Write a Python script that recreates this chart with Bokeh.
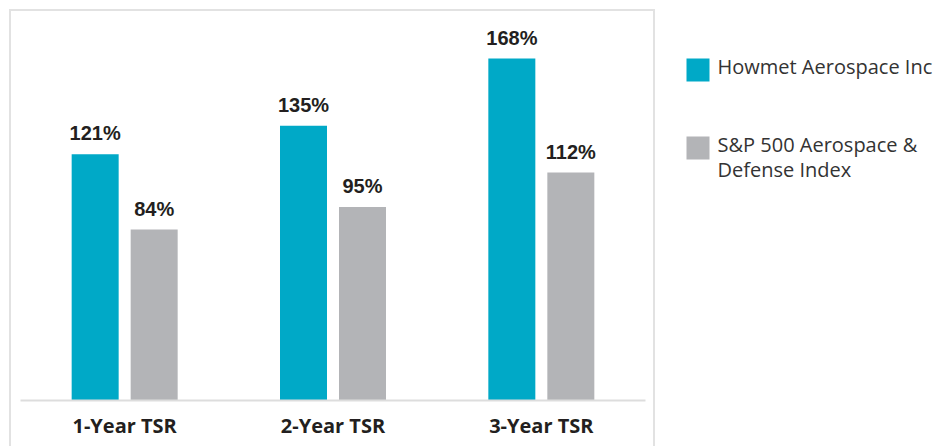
from bokeh.plotting import figure
from bokeh.models import ColumnDataSource, FactorRange, Range1d
from bokeh.transform import dodge
from bokeh.layouts import row
from bokeh.core.properties import value
from bokeh.embed import file_html
from bokeh.resources import INLINE

# ---- data ----
categories = ["1-Year TSR", "2-Year TSR", "3-Year TSR"]
howmet = [121, 135, 168]
sp500 = [84, 95, 112]
series_names = ["Howmet Aerospace Inc", "S&P 500 Aerospace &\nDefense Index"]

TEAL = "#00A9C7"
GRAY = "#B3B4B7"
DARK = "#231F20"
BOX = "#E2E2E2"

src = ColumnDataSource(dict(
    cat=categories,
    howmet=howmet,
    sp=sp500,
    howmet_lbl=[f"{v}%" for v in howmet],
    sp_lbl=[f"{v}%" for v in sp500],
))

# ---- chart panel (boxed) ----
p1 = figure(
    x_range=FactorRange(factors=categories, range_padding=0),
    y_range=Range1d(0, 185.7),
    width=646, height=437,
    output_backend="svg", toolbar_location=None,
    min_border_left=9, min_border_right=12, min_border_top=11, min_border_bottom=48,
    y_axis_location=None, outline_line_color=None,
)
p1.styles = {
    "margin-left": "9px",
    "margin-top": "9px",
    "border-top": f"2px solid {BOX}",
    "border-left": f"2px solid {BOX}",
    "border-right": f"2px solid {BOX}",
}

OFF = 0.1416
BW = 0.2256
p1.vbar(x=dodge("cat", -OFF, range=p1.x_range), top="howmet", width=BW, source=src,
        fill_color=TEAL, line_color=None)
p1.vbar(x=dodge("cat", OFF, range=p1.x_range), top="sp", width=BW, source=src,
        fill_color=GRAY, line_color=None)

lbl_kw = dict(source=src, text_align="center", text_baseline="alphabetic", y_offset=-21,
              text_font=value("Liberation Sans"), text_font_style="bold",
              text_font_size="20px", text_color=DARK)
p1.text(x=dodge("cat", -OFF, range=p1.x_range), y="howmet", text="howmet_lbl", **lbl_kw)
p1.text(x=dodge("cat", OFF, range=p1.x_range), y="sp", text="sp_lbl", **lbl_kw)

ax = p1.xaxis[0]
ax.axis_line_color = "#DDDDDD"
ax.axis_line_width = 2
ax.major_tick_line_color = None
ax.minor_tick_line_color = None
ax.major_label_text_font = "Open Sans"
ax.major_label_text_font_style = "bold"
ax.major_label_text_font_size = "20px"
ax.major_label_text_color = DARK
ax.major_label_standoff = 5
p1.grid.visible = False

# ---- legend panel (pixel-like coordinates) ----
LX0, LX1 = 656, 939
FT, FB = 22, 400
p2 = figure(
    width=LX1 - LX0, height=437,
    x_range=Range1d(LX0, LX1), y_range=Range1d(FB, FT),
    output_backend="svg", toolbar_location=None,
    min_border_left=0, min_border_top=11, min_border_right=0, min_border_bottom=48,
    x_axis_location=None, y_axis_location=None, outline_line_color=None,
)
p2.styles = {"margin-top": "9px", "border-top": "2px solid transparent"}
p2.grid.visible = False

SW = 23          # swatch size
SX = 687         # swatch left
SY0 = 58         # first swatch top
STEP = 78        # distance between items
n = len(series_names)
sw_y = [SY0 + i * STEP + SW / 2 for i in range(n)]
p2.rect(x=[SX + SW / 2] * n, y=sw_y, width=SW, height=SW,
        fill_color=[TEAL, GRAY], line_color=None)
p2.text(x=[SX + SW + 8] * n, y=[SY0 + i * STEP - 6 for i in range(n)], text=series_names,
        text_align="left", text_baseline="top", text_line_height=0.96,
        text_font=value("Open Sans"), text_font_size="20px", text_color="#333333")

layout = row(p1, p2)
open("out.html", "w").write(file_html(layout, INLINE))
